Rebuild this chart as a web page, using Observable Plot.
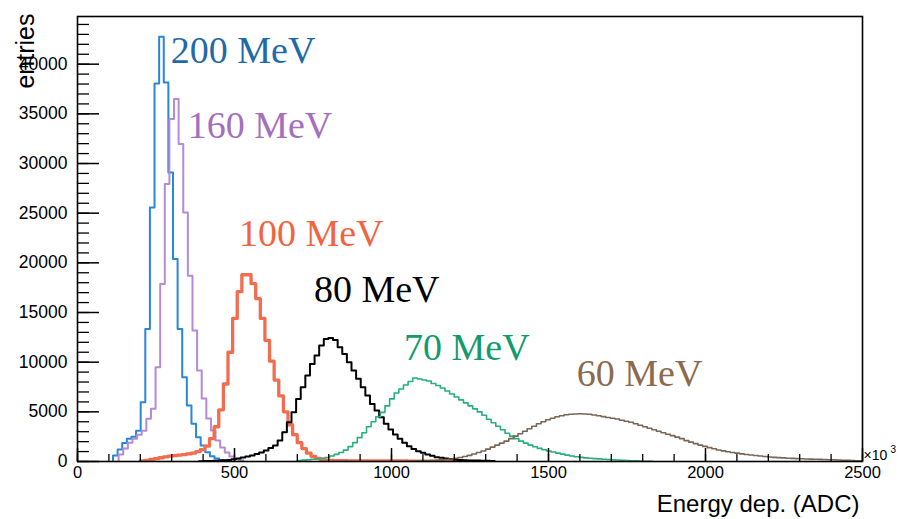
<!DOCTYPE html>
<html><head><meta charset="utf-8">
<script src="https://cdn.jsdelivr.net/npm/d3@7"></script>
<script src="https://cdn.jsdelivr.net/npm/@observablehq/plot@0.6"></script>
<style>body{margin:0;background:#fff;}</style>
</head><body><div id="chart"></div>
<script>
// ---- data ----
const binWidth = 14.7;
const energyLabels = ["200 MeV", "160 MeV", "100 MeV", "80 MeV", "70 MeV", "60 MeV"];
const binStarts = [113, 131, 200, 387.5, 700, 1050];
const counts200 = [600, 1200, 1850, 2300, 2500, 3100, 5970, 13350, 25580, 38060, 42760, 38160, 29100, 20390, 13350, 8480, 5630, 3790, 2450, 1610, 940, 530, 300, 150, 80];
const counts160 = [700, 1300, 1900, 2300, 2700, 3100, 4300, 5300, 9490, 17880, 27940, 34480, 36490, 31960, 25080, 18710, 13180, 9150, 6340, 4330, 3120, 2110, 1400, 900, 500, 250, 120];
const counts100 = [60, 120, 200, 280, 380, 460, 540, 600, 650, 700, 760, 850, 1000, 1200, 1550, 2300, 3500, 5200, 7800, 11000, 14400, 17100, 18800, 18800, 17900, 16400, 14400, 12200, 10100, 8200, 6600, 5000, 3700, 2700, 1900, 1300, 850, 520, 320, 200, 140, 100, 90, 80, 80, 70, 70, 70, 60, 60, 60, 60, 60, 50, 50, 50, 50, 50, 40, 40, 40, 40, 30, 30, 30, 30, 30, 20, 20, 20, 20, 10];
const counts80 = [30, 50, 60, 80, 100, 120, 160, 220, 300, 400, 500, 600, 750, 900, 1100, 1350, 1610, 2110, 2950, 3960, 4960, 6300, 7480, 8650, 9820, 10660, 11670, 12340, 12440, 12240, 11500, 10830, 9990, 9150, 8320, 7480, 6640, 5800, 5130, 4460, 3790, 3220, 2720, 2280, 1880, 1540, 1270, 1040, 870, 700, 570, 430, 370, 300, 240, 200, 160, 130, 110, 100, 90, 80, 70, 60];
const counts70 = [100, 140, 180, 220, 270, 320, 400, 560, 720, 900, 1150, 1500, 1900, 2400, 2900, 3500, 4000, 4500, 4950, 5600, 6300, 6900, 7300, 7700, 8050, 8400, 8300, 8200, 8100, 7850, 7650, 7400, 7100, 6800, 6500, 6200, 5900, 5600, 5300, 5000, 4650, 4250, 3900, 3550, 3200, 2850, 2550, 2300, 2050, 1850, 1650, 1480, 1320, 1180, 1060, 950, 840, 740, 640, 560, 480, 420, 370, 330, 290, 260, 230, 200, 170, 150, 120, 100, 80, 60, 40, 30, 20];
const counts60 = [20, 30, 40, 60, 80, 100, 130, 160, 200, 250, 320, 400, 500, 620, 760, 900, 1050, 1250, 1450, 1650, 1850, 2050, 2300, 2550, 2800, 3050, 3300, 3550, 3800, 4000, 4200, 4350, 4500, 4600, 4700, 4750, 4780, 4800, 4780, 4750, 4680, 4600, 4520, 4430, 4350, 4280, 4150, 4050, 3950, 3800, 3650, 3500, 3350, 3200, 3050, 2900, 2750, 2600, 2450, 2300, 2100, 1950, 1800, 1650, 1520, 1400, 1280, 1160, 1070, 980, 900, 840, 770, 710, 650, 600, 550, 500, 460, 420, 390, 360, 330, 310, 290, 270, 250, 240, 230, 210, 200, 180, 170, 150, 130, 110, 100, 80, 60];
const allCounts = [counts200, counts160, counts100, counts80, counts70, counts60];
const labelAnchorX = [297, 351, 514, 753, 1040, 1590];
const labelAnchorY = [40140, 32590, 21730, 16100, 10260, 7650];
const xMajorTicks = [0, 500, 1000, 1500, 2000, 2500];
const yMajorTicks = [0, 5000, 10000, 15000, 20000, 25000, 30000, 35000, 40000];
const xMinorTicks = d3.range(0, 2501, 100);
const yMinorTicks = d3.range(0, 44001, 1000);

// ---- styles ----
const lineColors = ["#2a86d8", "#b58ad6", "#f26d50", "#000000", "#25b07c", "#7a6656"];
const lineWidths = [2, 2, 3.3, 2, 1.6, 1.6];
const labelColors = ["#1f6aa8", "#a56fc0", "#f0653f", "#000000", "#149a6c", "#8b6a4e"];

// build step outlines
const histRows = allCounts.map((counts, s) => {
  const start = binStarts[s];
  const pts = [{x: start, y: 0}];
  counts.forEach((c, i) => pts.push({x: start + i * binWidth, y: c}));
  pts.push({x: start + counts.length * binWidth, y: 0});
  return pts;
});
const labelRows = energyLabels.map((t, i) => ({t, x: labelAnchorX[i], y: labelAnchorY[i], c: labelColors[i]}));

const fmt = d => String(d);
const chart = Plot.plot({
  width: 899, height: 519,
  marginLeft: 77, marginRight: 37, marginTop: 16, marginBottom: 58,
  x: {domain: [0, 2500], label: null},
  y: {domain: [0, 44800], label: null},
  style: {fontFamily: "'Liberation Sans', Arial, sans-serif", background: "#fff", color: "#000"},
  marks: [
    ...histRows.map((pts, s) => Plot.line(pts, {x: "x", y: "y", curve: "step-after", stroke: lineColors[s], strokeWidth: lineWidths[s], clip: true})),
    Plot.axisX(xMinorTicks, {tickSize: -7, tickFormat: () => "", label: null, strokeWidth: 1.3}),
    Plot.axisX(xMajorTicks, {tickSize: -13, tickFormat: () => "", label: null, strokeWidth: 1.5}),
    Plot.axisX(xMajorTicks, {tickSize: 0, tickPadding: 5, tickFormat: fmt, label: null, fontSize: 16.5}),
    Plot.axisY(yMinorTicks, {tickSize: -12, tickFormat: () => "", label: null, strokeWidth: 1.3}),
    Plot.axisY(yMajorTicks, {tickSize: -22, tickFormat: () => "", label: null, strokeWidth: 1.5}),
    Plot.axisY(yMajorTicks, {tickSize: 0, tickPadding: 10, tickFormat: fmt, label: null, fontSize: 17.5}),
    Plot.frame({stroke: "#000", strokeWidth: 1.6}),
    Plot.text(["entries"], {frameAnchor: "top-left", rotate: -90, textAnchor: "end", lineAnchor: "middle", dx: -52, dy: -3, fontSize: 25}),
    Plot.text(["Energy dep. (ADC)"], {frameAnchor: "bottom-right", textAnchor: "end", lineAnchor: "bottom", dx: -3, dy: 50, fontSize: 24}),
    Plot.text(["×10"], {frameAnchor: "bottom-right", textAnchor: "start", lineAnchor: "bottom", dx: 1, dy: -2, fontSize: 14}),
    Plot.text(["3"], {frameAnchor: "bottom-right", textAnchor: "start", lineAnchor: "bottom", dx: 28, dy: -9, fontSize: 10}),
    Plot.text(labelRows, {x: "x", y: "y", text: "t", fill: "c", textAnchor: "start", lineAnchor: "bottom", fontSize: 38, fontFamily: "'Liberation Serif', 'Times New Roman', serif"})
  ]
});
document.getElementById("chart").appendChild(chart);
</script>
</body></html>
